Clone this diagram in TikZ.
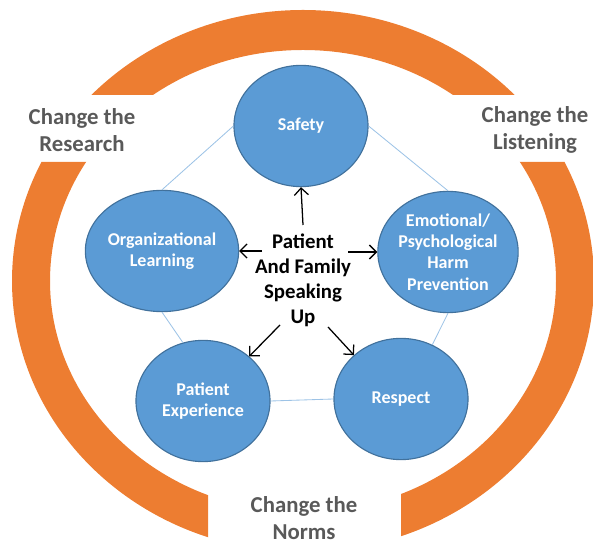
\documentclass[tikz,border=0pt]{standalone}
\usepackage{fontspec}
\setmainfont{Carlito}
\usepackage{xcolor}
\usepackage{tikz}
\usetikzlibrary{shapes.geometric}
\usetikzlibrary{arrows.meta}
\definecolor{ringorange}{HTML}{ED7D31}
\definecolor{circblue}{HTML}{5B9BD5}
\definecolor{circedge}{HTML}{41719C}
\definecolor{linkblue}{HTML}{9DC3E6}
\definecolor{labelgray}{HTML}{595959}
\tikzset{
 value/.style={ellipse, fill=circblue, draw=circedge, line width=0.8pt, minimum width=3.35cm, minimum height=3.03cm, inner sep=0pt, align=center, text=white, font=\fontsize{12.8}{15.2}\selectfont\bfseries},
 change/.style={align=center, text=labelgray, inner sep=0pt, font=\fontsize{16.2}{19}\selectfont\bfseries},
 link/.style={linkblue, line width=0.6pt},
 speak/.style={black, line width=0.9pt, -{Straight Barb[length=5pt,width=10pt]}}
}

\begin{document}
\begin{tikzpicture}[x=0.025cm, y=0.025cm]
\useasboundingbox (0,0) rectangle (593,545);

\begin{scope}
\clip (0,450) rectangle (593,545) (0,0) rectangle (208,383) (401,0) rectangle (593,383);
\fill[ringorange, even odd rule] (303,264) ellipse (291 and 271) (303,264) ellipse (253 and 231);
\end{scope}

\node[change] (research) at (82,415) {Change the\\Research};
\node[change] (listening) at (535,415) {Change the\\Listening};
\node[change] (norms) at (304,27) {Change the\\Norms};

\node[value] (safety) at (301,419) {Safety};
\node[value] (learning) at (162,294) {Organizational\\Learning};
\node[value] (harm) at (448,293) {Emotional/\\Psychological\\Harm\\Prevention};
\node[value] (experience) at (203,144) {Patient\\Experience};
\node[value] (respect) at (401,146) {Respect};

\draw[link] (safety.west) -- (learning.north);
\draw[link] (safety.east) -- (harm.north);
\draw[link] (learning.south) -- (experience.109);
\draw[link] (harm.south) -- (respect.60);
\draw[link] (experience.east) -- (respect.west);

\node[align=center, inner sep=0pt, font=\fontsize{14.8}{17.7}\selectfont\bfseries] (speakup) at (303,265) {Patient\\And Family\\Speaking\\Up};

\coordinate (up) at ([shift={(0,55)}]speakup.center);
\coordinate (left) at ([shift={(-41,29)}]speakup.center);
\coordinate (right) at ([shift={(45,28)}]speakup.center);
\coordinate (downleft) at ([shift={(-23,-45)}]speakup.center);
\coordinate (downright) at ([shift={(25,-47)}]speakup.center);

\draw[speak] (up) -- (safety.south);
\draw[speak] (left) -- (learning.east);
\draw[speak] (right) -- (harm.west);
\draw[speak] (downleft) -- (experience.44);
\draw[speak] (downright) -- (respect.137);
\end{tikzpicture}
\end{document}
